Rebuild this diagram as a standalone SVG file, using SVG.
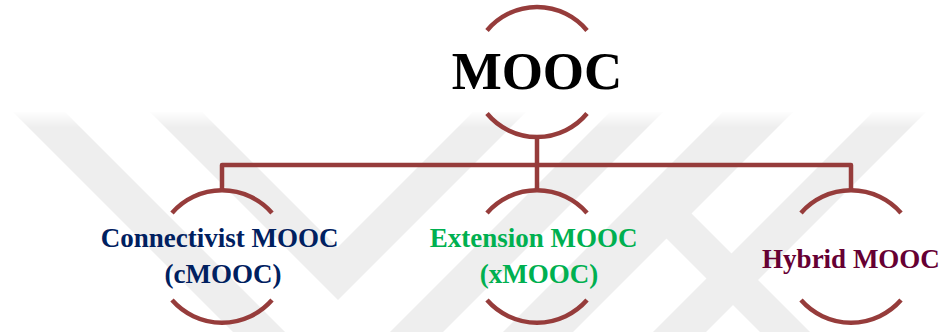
<svg xmlns="http://www.w3.org/2000/svg" width="939" height="332" viewBox="0 0 939 332">
  <defs>
    <style>
      .arc { fill: none; stroke: #963c3b; stroke-width: 4.5; }
      .link { fill: none; stroke: #963c3b; stroke-width: 4.5; stroke-linejoin: round; }
      .label { font-family: "Liberation Serif", "Times New Roman", serif; font-weight: bold; text-anchor: middle; }
      .sub { font-size: 27px; }
      .wm { fill: #eeeeee; }
    </style>
    <!-- soft upper edge for the background emblem -->
    <linearGradient id="fade" x1="0" y1="110" x2="0" y2="128" gradientUnits="userSpaceOnUse">
      <stop offset="0" stop-color="#000"/>
      <stop offset="1" stop-color="#fff"/>
    </linearGradient>
    <mask id="wmMask">
      <rect x="0" y="0" width="939" height="332" fill="url(#fade)"/>
    </mask>
  </defs>

  <rect width="939" height="332" fill="#ffffff"/>

  <!-- background chevron emblem -->
  <g id="emblem" mask="url(#wmMask)">
    <polygon class="wm" points="13,112 65,112 285,332 233,332"/>
    <polygon class="wm" points="150,112 202,112 337.5,247.5 473,112 526,112 338,300"/>
    <polygon class="wm" points="610,112 663,112 443,332 390,332"/>
    <polygon class="wm" points="723,112 793,112 573,332 503,332"/>
    <polygon class="wm" points="873,112 926,112 706,332 653,332"/>
    <polygon class="wm" points="640,212 690,212 810,332 760,332"/>
  </g>

  <!-- connectors -->
  <g id="connectors">
    <path class="link" d="M537,137 V190"/>
    <path class="link" d="M222,190 V165 H851 V190"/>
  </g>

  <!-- root -->
  <g id="node-mooc">
    <path class="arc" d="M487,30.5 A65,65 0 0 1 587,30.5"/>
    <path class="arc" d="M487,113.5 A65,65 0 0 0 587,113.5"/>
    <text class="label" x="537" y="89" font-size="53" fill="#000000">MOOC</text>
  </g>

  <g id="node-cmooc">
    <path class="arc" d="M172,213 A66.5,66.5 0 0 1 272,213"/>
    <path class="arc" d="M172,300 A66.5,66.5 0 0 0 272,300"/>
    <text class="label sub" fill="#002060">
      <tspan x="223" y="246.5">Connectivist MOOC</tspan>
      <tspan x="223" y="282.5">(cMOOC)</tspan>
    </text>
  </g>

  <g id="node-xmooc">
    <path class="arc" d="M487,213 A66.5,66.5 0 0 1 587,213"/>
    <path class="arc" d="M487,300 A66.5,66.5 0 0 0 587,300"/>
    <text class="label sub" fill="#00b050">
      <tspan x="537" y="246.5">Extension MOOC</tspan>
      <tspan x="539" y="282.5">(xMOOC)</tspan>
    </text>
  </g>

  <g id="node-hybrid">
    <path class="arc" d="M801,213 A66.5,66.5 0 0 1 901,213"/>
    <path class="arc" d="M801,300 A66.5,66.5 0 0 0 901,300"/>
    <text class="label sub" x="851" y="268" fill="#660033">Hybrid MOOC</text>
  </g>
</svg>
